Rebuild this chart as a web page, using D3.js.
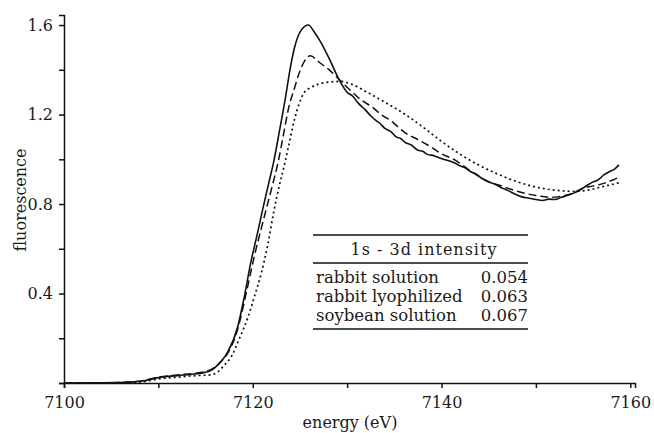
<!DOCTYPE html>
<html>
<head>
<meta charset="utf-8">
<style>
  body { margin: 0; background: #fff; }
  text { font-family: "DejaVu Serif", serif; fill: #1a1a1a; }
</style>
</head>
<body>
<svg width="654" height="433"></svg>
<script src="https://d3js.org/d3.v7.min.js"></script>
<script>
  // rabbit solution (solid)
  var rabbitSolution = [
    [7100, 0.000], [7104, 0.001], [7107, 0.004], [7108.5, 0.010], [7110, 0.024],
    [7112, 0.033], [7114, 0.041], [7115.5, 0.055], [7116.5, 0.090], [7117.3, 0.135],
    [7118.4, 0.250], [7119.1, 0.385], [7119.8, 0.540], [7120.5, 0.670], [7121.1, 0.785],
    [7121.7, 0.895], [7122.2, 0.985], [7122.8, 1.120], [7123.5, 1.285], [7123.9, 1.390],
    [7124.4, 1.495], [7125.1, 1.575], [7125.9, 1.600], [7126.5, 1.570], [7127.2, 1.524],
    [7128.1, 1.450], [7129.1, 1.360], [7130.0, 1.300], [7130.6, 1.282], [7131.2, 1.250],
    [7131.9, 1.222], [7132.6, 1.190], [7133.1, 1.172], [7133.5, 1.160], [7134.0, 1.138],
    [7134.6, 1.125], [7135.2, 1.100], [7135.7, 1.092], [7136.1, 1.077], [7136.8, 1.064],
    [7137.5, 1.040], [7138.0, 1.036], [7138.5, 1.022], [7139.2, 1.016], [7139.8, 1.006],
    [7140.5, 0.997], [7141.0, 0.990], [7141.4, 0.983], [7142.0, 0.970], [7142.5, 0.962],
    [7143.1, 0.944], [7143.6, 0.936], [7144.3, 0.914], [7145.0, 0.898], [7145.6, 0.890],
    [7146.4, 0.872], [7147.0, 0.862], [7147.6, 0.848], [7148.5, 0.832], [7149.3, 0.826],
    [7150.0, 0.820], [7150.7, 0.816], [7151.4, 0.822], [7152.0, 0.820], [7152.7, 0.830],
    [7153.5, 0.840], [7154.2, 0.852], [7154.8, 0.866], [7155.3, 0.880], [7156.0, 0.898],
    [7156.6, 0.908], [7157.2, 0.930], [7157.8, 0.945], [7158.3, 0.955], [7158.8, 0.975]
  ];

  // rabbit lyophilized (dashed)
  var rabbitLyophilized = [
    [7100, 0.000], [7104, 0.001], [7107, 0.004], [7108.5, 0.012], [7110, 0.026],
    [7112, 0.036], [7114, 0.044], [7115.5, 0.058], [7116.5, 0.090], [7117.3, 0.130],
    [7118.4, 0.240], [7119.3, 0.400], [7120.1, 0.555], [7121.2, 0.740], [7122.0, 0.870],
    [7122.7, 0.990], [7123.3, 1.120], [7123.8, 1.230], [7124.4, 1.315], [7125.0, 1.395],
    [7125.5, 1.440], [7126.1, 1.463], [7127.0, 1.435], [7128.1, 1.400], [7129.2, 1.355],
    [7130.3, 1.310], [7131.5, 1.265], [7132.6, 1.235], [7133.6, 1.200], [7134.7, 1.170],
    [7136.1, 1.120], [7137.5, 1.088], [7138.9, 1.055], [7140.0, 1.025], [7141.4, 0.997],
    [7143.0, 0.950], [7145.0, 0.900], [7146.4, 0.880], [7148.2, 0.855], [7150.0, 0.838],
    [7151.7, 0.830], [7153.0, 0.838], [7154.0, 0.850], [7154.9, 0.870], [7156.0, 0.880],
    [7157.0, 0.890], [7158.0, 0.905], [7158.8, 0.920]
  ];

  // soybean solution (dotted)
  var soybeanSolution = [
    [7100, 0.000], [7105, 0.000], [7108, 0.004], [7110, 0.018], [7112, 0.026],
    [7114, 0.033], [7115.5, 0.036], [7116.3, 0.050], [7117.0, 0.080], [7117.7, 0.116],
    [7118.6, 0.200], [7119.5, 0.295], [7120.2, 0.390], [7120.9, 0.490], [7121.6, 0.620],
    [7122.2, 0.760], [7122.8, 0.880], [7123.3, 0.965], [7123.7, 1.040], [7124.4, 1.175],
    [7125.4, 1.295], [7126.2, 1.322], [7126.9, 1.335], [7128.1, 1.345], [7129.3, 1.348],
    [7130.5, 1.335], [7132.2, 1.298], [7134.0, 1.255], [7136.0, 1.205], [7138.0, 1.145],
    [7140.0, 1.080], [7142.0, 1.022], [7144.0, 0.973], [7146.0, 0.933], [7148.0, 0.900],
    [7150.0, 0.876], [7152.0, 0.862], [7154.0, 0.857], [7155.5, 0.862], [7157.0, 0.877],
    [7158.8, 0.895]
  ];

  var xTicks = [7100, 7110, 7120, 7130, 7140, 7150, 7160];
  var xLabels = [7100, 7120, 7140, 7160];
  var yTicks = [0, 0.2, 0.4, 0.6, 0.8, 1.0, 1.2, 1.4, 1.6];
  var yLabels = [0.4, 0.8, 1.2, 1.6];

  var tableTitle = "1s - 3d intensity";
  var tableNames = ["rabbit solution", "rabbit lyophilized", "soybean solution"];
  var tableValues = ["0.054", "0.063", "0.067"];

  var svg = d3.select("svg");

  var x = d3.scaleLinear().domain([7100, 7160.5]).range([64, 635]);
  var y = d3.scaleLinear().domain([0, 1.645]).range([383, 15]);

  svg.append("g")
      .attr("transform", "translate(0," + y(0) + ")")
      .call(d3.axisBottom(x)
        .tickValues(xTicks)
        .tickSizeOuter(0)
        .tickSize(5)
        .tickPadding(9)
        .tickFormat(function(d) { return xLabels.indexOf(d) >= 0 ? d : ""; }));

  svg.append("g")
      .attr("transform", "translate(" + x(7100) + ",0)")
      .call(d3.axisLeft(y)
        .tickValues(yTicks)
        .tickSizeOuter(0)
        .tickSize(5)
        .tickPadding(6)
        .tickFormat(function(d) {
          return yLabels.some(function(v) { return Math.abs(v - d) < 1e-9; }) ? d3.format(".1f")(d) : "";
        }));

  svg.selectAll(".tick text")
      .attr("font-family", "DejaVu Serif")
      .attr("font-size", 16)
      .attr("fill", "#1a1a1a");
  svg.selectAll(".domain, .tick line")
      .attr("stroke", "#111")
      .attr("stroke-width", 1.5);

  svg.append("text")
      .attr("x", 350)
      .attr("y", 428)
      .attr("text-anchor", "middle")
      .attr("font-size", 16)
      .text("energy (eV)");

  svg.append("text")
      .attr("transform", "translate(26,200) rotate(-90)")
      .attr("text-anchor", "middle")
      .attr("font-size", 16)
      .text("fluorescence");

  var line = d3.line()
      .x(function(d) { return x(d[0]); })
      .y(function(d) { return y(d[1]); })
      .curve(d3.curveMonotoneX);

  svg.append("path")
      .datum(soybeanSolution)
      .attr("fill", "none")
      .attr("stroke", "#111")
      .attr("stroke-width", 1.7)
      .attr("stroke-dasharray", "2,3")
      .attr("d", line);

  svg.append("path")
      .datum(rabbitLyophilized)
      .attr("fill", "none")
      .attr("stroke", "#111")
      .attr("stroke-width", 1.5)
      .attr("stroke-dasharray", "8,4")
      .attr("d", line);

  svg.append("path")
      .datum(rabbitSolution)
      .attr("fill", "none")
      .attr("stroke", "#111")
      .attr("stroke-width", 1.6)
      .attr("stroke-linejoin", "round")
      .attr("d", line);

  // intensity table
  var table = svg.append("g");
  [235, 263, 329].forEach(function(ly) {
    table.append("line")
        .attr("x1", 313).attr("x2", 528)
        .attr("y1", ly).attr("y2", ly)
        .attr("stroke", "#111")
        .attr("stroke-width", 1.6);
  });

  table.append("text")
      .attr("x", 424)
      .attr("y", 255)
      .attr("text-anchor", "middle")
      .attr("font-size", 16)
      .attr("letter-spacing", 1)
      .text(tableTitle);

  tableNames.forEach(function(name, i) {
    table.append("text")
        .attr("x", 316)
        .attr("y", 283 + i * 19)
        .attr("font-size", 16.5)
        .text(name);
    table.append("text")
        .attr("x", 528)
        .attr("y", 283 + i * 19)
        .attr("text-anchor", "end")
        .attr("font-size", 16.5)
        .text(tableValues[i]);
  });
</script>
</body>
</html>
